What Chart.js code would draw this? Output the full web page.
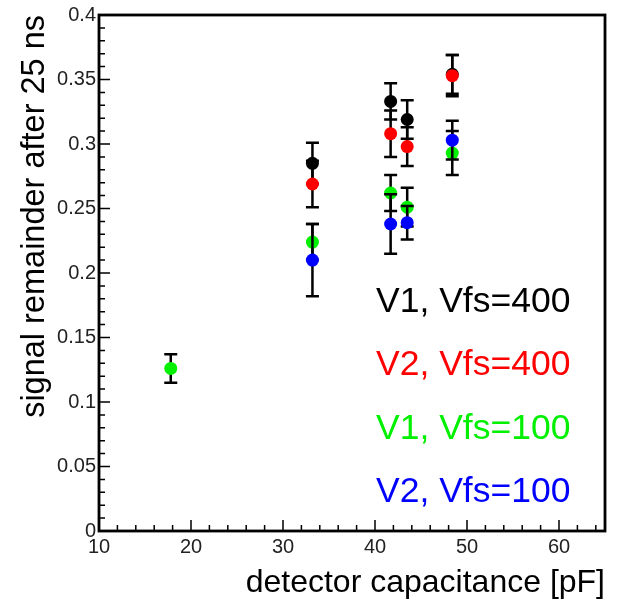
<!DOCTYPE html>
<html>
<head>
<meta charset="utf-8">
<script src="https://cdn.jsdelivr.net/npm/chart.js@4/dist/chart.umd.min.js"></script>
<style>
  html, body { margin: 0; padding: 0; background: #fff; }
  #wrap { width: 628px; height: 602px; position: relative; }
</style>
</head>
<body>
<div id="wrap"><canvas id="c" width="628" height="602"></canvas></div>
<script>
// ---- data ----
const seriesNames = ['V1, Vfs=400', 'V2, Vfs=400', 'V1, Vfs=100', 'V2, Vfs=100'];
const seriesColors = ['#000000', '#ff0000', '#00f000', '#0000ff'];

const capV1_400 = [33.2, 41.7, 43.5, 48.4];
const remV1_400 = [0.285, 0.333, 0.319, 0.354];
const errV1_400 = [0.016, 0.014, 0.015, 0.015];

const capV2_400 = [33.2, 41.7, 43.5, 48.4];
const remV2_400 = [0.269, 0.308, 0.298, 0.353];
const errV2_400 = [0.018, 0.018, 0.015, 0.016];

const capV1_100 = [17.8, 33.2, 41.7, 43.5, 48.4];
const remV1_100 = [0.126, 0.224, 0.262, 0.251, 0.293];
const errV1_100 = [0.011, 0.014, 0.014, 0.015, 0.017];

const capV2_100 = [33.2, 41.7, 43.5, 48.4];
const remV2_100 = [0.210, 0.238, 0.239, 0.303];
const errV2_100 = [0.028, 0.023, 0.013, 0.015];

const xTitle = 'detector capacitance [pF]';
const yTitle = 'signal remainder after 25 ns';

const FONT = "'Liberation Sans', Arial, Helvetica, sans-serif";

function pts(xs, ys) { return xs.map((x, i) => ({ x: x, y: ys[i] })); }

const allCaps = [capV1_400, capV2_400, capV1_100, capV2_100];
const allRems = [remV1_400, remV2_400, remV1_100, remV2_100];
const allErrs = [errV1_400, errV2_400, errV1_100, errV2_100];

const datasets = seriesNames.map((name, s) => ({
  label: name,
  data: pts(allCaps[s], allRems[s]),
  errors: allErrs[s],
  backgroundColor: seriesColors[s],
  borderColor: seriesColors[s],
  pointRadius: 6.5,
  pointHoverRadius: 6.5,
  pointBorderWidth: 0,
  showLine: false,
  order: 4 - s
}));

// error bars drawn just before each dataset's markers
const errorBars = {
  id: 'errorBars',
  beforeDatasetDraw(chart, args) {
    const ds = chart.data.datasets[args.index];
    const ys = chart.scales.y;
    const ctx = chart.ctx;
    ctx.save();
    ctx.strokeStyle = '#000';
    ctx.lineWidth = 2.5;
    args.meta.data.forEach((el, i) => {
      const v = ds.data[i].y, e = ds.errors[i];
      const x = el.x;
      const yt = ys.getPixelForValue(v + e);
      const yb = ys.getPixelForValue(v - e);
      ctx.beginPath();
      ctx.moveTo(x, yt); ctx.lineTo(x, yb);
      ctx.moveTo(x - 6.5, yt); ctx.lineTo(x + 6.5, yt);
      ctx.moveTo(x - 6.5, yb); ctx.lineTo(x + 6.5, yb);
      ctx.stroke();
    });
    ctx.restore();
  }
};

// frame + inward ticks (ROOT style)
const frameTicks = {
  id: 'frameTicks',
  beforeDatasetsDraw(chart) {
    const { ctx, chartArea: a, scales: { x, y } } = chart;
    ctx.save();
    ctx.strokeStyle = '#000';
    ctx.lineWidth = 1.5;
    ctx.beginPath();
    for (let v = 10; v <= 65; v += 2) {
      const px = x.getPixelForValue(v);
      const len = (v % 10 === 0) ? 11 : 6;
      ctx.moveTo(px, a.bottom); ctx.lineTo(px, a.bottom - len);
    }
    for (let k = 0; k <= 40; k++) {
      const py = y.getPixelForValue(k / 100);
      const len = (k % 5 === 0) ? 11 : 6;
      ctx.moveTo(a.left, py); ctx.lineTo(a.left + len, py);
    }
    ctx.stroke();
    ctx.lineWidth = 2.8;
    ctx.strokeRect(a.left, a.top, a.right - a.left, a.bottom - a.top);
    ctx.restore();
  }
};

// text legend
const textLegend = {
  id: 'textLegend',
  afterDraw(chart) {
    const ctx = chart.ctx;
    ctx.save();
    ctx.font = '35.5px ' + FONT;
    ctx.textAlign = 'left';
    ctx.textBaseline = 'alphabetic';
    const x0 = 376, y0 = 312, dy = 63.3;
    seriesNames.forEach((n, i) => {
      ctx.fillStyle = seriesColors[i];
      ctx.fillText(n, x0, y0 + dy * i);
    });
    ctx.restore();
  }
};

new Chart(document.getElementById('c'), {
  type: 'scatter',
  data: { datasets: datasets },
  options: {
    responsive: false,
    devicePixelRatio: 1,
    animation: false,
    events: [],
    layout: { padding: { left: 0, top: 14, right: 23, bottom: 0 } },
    plugins: { legend: { display: false }, tooltip: { enabled: false } },
    scales: {
      x: {
        type: 'linear', min: 10, max: 65,
        grid: { display: false, drawTicks: false },
        border: { display: false },
        ticks: {
          stepSize: 10, includeBounds: false, padding: 4,
          color: '#222', font: { family: FONT, size: 20 },
          maxRotation: 0, autoSkip: false
        },
        title: {
          display: true, text: xTitle, align: 'end', color: '#000',
          font: { family: FONT, size: 32 }, padding: { top: 0, bottom: 0 }
        },
        afterFit(s) { s.height = 71; }
      },
      y: {
        type: 'linear', min: 0, max: 0.4,
        grid: { display: false, drawTicks: false },
        border: { display: false },
        ticks: {
          stepSize: 0.05, padding: 3,
          color: '#222', font: { family: FONT, size: 20 },
          callback: v => String(+(+v).toFixed(2))
        },
        title: {
          display: true, text: yTitle, align: 'end', color: '#000',
          font: { family: FONT, size: 32.5 }, padding: { top: 16, bottom: 0 }
        },
        afterFit(s) { s.width = 99; }
      }
    }
  },
  plugins: [errorBars, frameTicks, textLegend]
});
</script>
</body>
</html>
